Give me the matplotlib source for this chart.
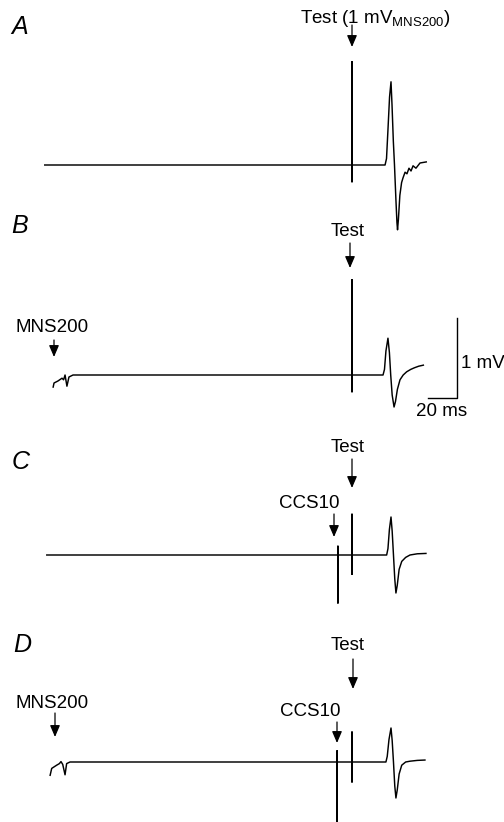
import matplotlib
matplotlib.use("Agg")
import matplotlib.pyplot as plt

plt.rcParams['font.family'] = ['Liberation Sans', 'DejaVu Sans']
plt.rcParams['mathtext.fontset'] = 'custom'
plt.rcParams['mathtext.rm'] = 'Liberation Sans'

# ---------------- data (time in ms relative to test stimulus, voltage in mV) ----------------
# Panel A: test alone
a_t = [-212.4, 0, 0, 0, 0, 22.8, 23.8, 24.8, 25.9, 26.9, 27.6, 28.5, 29.3, 30.3, 31.0, 31.4, 32.0, 33.0,
       34.2, 35.2, 36.6, 37.9, 39.3, 40.7, 42.1, 44.1, 46.9, 51.7]
a_v = [0, 0, 1.29, -0.21, 0, 0, 0.08, 0.44, 0.85, 1.04, 0.75, 0.3, 0, -0.44, -0.72, -0.81, -0.68, -0.38,
       -0.22, -0.16, -0.09, -0.11, -0.04, -0.075, -0.01, -0.04, 0.025, 0.04]

# Panel B: MNS200 conditioning + test
b_t = [-206.2, -205.5, -202.8, -200.0, -198.9, -197.9, -196.6, -195.2, -192.4, 0, 0, 0, 0,
       21.4, 22.4, 23.4, 24.8, 25.8, 26.7, 27.7, 29.0, 30.0, 31.3, 33.1, 35.3, 37.7, 40.5, 43.0, 46.0, 49.7]
b_v = [-0.16, -0.10, -0.075, -0.04, -0.06, 0, -0.14, -0.025, 0, 0, 1.19, -0.21, 0,
       0, 0.07, 0.3, 0.46, 0.28, 0, -0.25, -0.40, -0.33, -0.18, -0.06, 0.0, 0.04, 0.07, 0.09, 0.11, 0.125]

# Panel C: CCS10 conditioning + test
c_t = [-211.0, -9.7, -9.7, -9.7, -9.7, 0, 0, 0, 0, 23.9, 24.8, 25.8, 26.9, 27.7, 28.6, 29.5, 30.3,
       31.2, 32.5, 34.3, 37.0, 40.0, 45.0, 51.5]
c_v = [0, 0, 0.11, -0.60, 0, 0, 0.51, -0.24, 0, 0, 0.08, 0.32, 0.475, 0.3, 0, -0.3, -0.475,
       -0.38, -0.18, -0.08, -0.03, 0.0, 0.015, 0.02]

# Panel D: MNS200 + CCS10 + test
d_t = [-208.3, -207.1, -203.7, -201.8, -200.7, -199.5, -197.9, -196.8, -194.5, -10.3, -10.3, -10.3, -10.3,
       0, 0, 0, 0, 23.4, 24.3, 25.5, 26.9, 27.7, 28.6, 29.5, 30.3, 31.2, 32.5, 34.3, 37.0, 40.0, 45.0, 50.8]
d_v = [-0.175, -0.08, -0.04, -0.02, 0.005, -0.03, -0.16, -0.02, 0, 0, 0.14, -0.80, 0,
       0, 0.375, -0.25, 0, 0, 0.07, 0.28, 0.425, 0.27, 0, -0.3, -0.45, -0.35, -0.15, -0.04, 0.0, 0.01, 0.02, 0.025]

panel_letters = ['A', 'B', 'C', 'D']
scale_ms = 20
scale_mv = 1

# ---------------- layout ----------------
W, H = 504, 822
PX_PER_MS = 1.45
PX_PER_MV = 80.0
X0 = 352.0  # pixel column of the test stimulus

fig = plt.figure(figsize=(W / 100, H / 100), dpi=100)
ax = fig.add_axes([0, 0, 1, 1])
ax.set_xlim(-X0 / PX_PER_MS, (W - X0) / PX_PER_MS)
ax.set_ylim(-H / PX_PER_MV, 0)
ax.axis('off')


def P(x, y):
    """pixel position -> data coordinates"""
    return ((x - X0) / PX_PER_MS, -y / PX_PER_MV)


baselines = [165, 375, 555, 762]
traces = [(a_t, a_v), (b_t, b_v), (c_t, c_v), (d_t, d_v)]
for (tt, vv), yb in zip(traces, baselines):
    off = -yb / PX_PER_MV
    ax.plot(tt, [v + off for v in vv], color='black', lw=1.05,
            solid_joinstyle='round', solid_capstyle='butt')

# panel letters
letter_pos = [(20, 27), (20, 226), (21, 462), (22, 645)]
for lab, (x, y) in zip(panel_letters, letter_pos):
    ax.text(*P(x, y), lab, fontsize=18, style='italic', ha='center', va='center')

FS = 13.5
texts = [
    (r'Test (1 mV$_{\mathregular{MNS200}}$)', 300, 23, 'left', 'baseline'),
    ('Test', 348, 231, 'center', 'center'),
    ('MNS200', 52, 328, 'center', 'center'),
    ('Test', 348, 448, 'center', 'center'),
    ('CCS10', 309, 503, 'center', 'center'),
    ('Test', 348, 646, 'center', 'center'),
    ('MNS200', 52, 703, 'center', 'center'),
    ('CCS10', 310, 711, 'center', 'center'),
]
for s, x, y, ha, va in texts:
    ax.text(*P(x, y), s, fontsize=FS, ha=ha, va=va)

# arrows (x, y_top, y_tip)
arrows = [(352, 25, 47), (350, 243, 268), (54, 340, 357), (352, 459, 488),
          (334, 514, 537), (353, 659, 689), (55, 713, 737), (337, 722, 743)]
for x, y1, y2 in arrows:
    ax.annotate('', xy=P(x, y2), xytext=P(x, y1),
                arrowprops=dict(arrowstyle='-|>,head_length=0.7,head_width=0.3',
                                mutation_scale=10, color='black', lw=0.9,
                                shrinkA=0, shrinkB=0))

# scale bar (20 ms, 1 mV)
sx, sy = P(428, 398)
ax.plot([sx, sx + scale_ms, sx + scale_ms], [sy, sy, sy + scale_mv], color='black', lw=1.0)
ax.text(*P(461, 363), f'{scale_mv} mV', fontsize=FS, ha='left', va='center')
ax.text(*P(442, 412), f'{scale_ms} ms', fontsize=FS, ha='center', va='center')

fig.savefig('out.png', dpi=100)
